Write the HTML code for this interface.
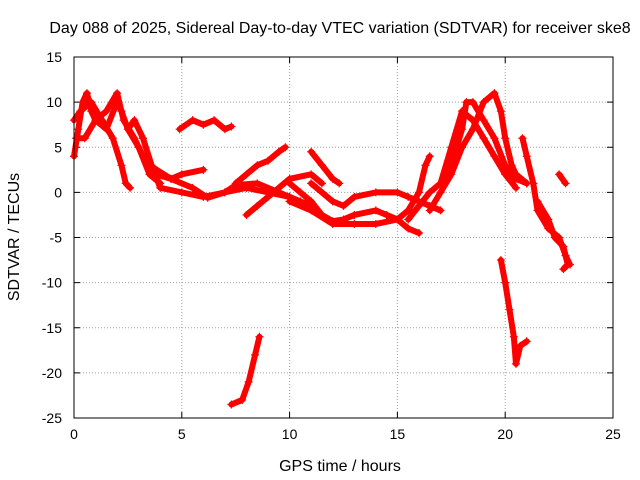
<!DOCTYPE html>
<html><head><meta charset="utf-8"><style>
body{margin:0;background:#fff}
svg{display:block;font-family:"Liberation Sans",sans-serif}
</style></head><body>
<svg id="chart" width="640" height="480" viewBox="0 0 640 480" xmlns="http://www.w3.org/2000/svg">
<rect width="640" height="480" fill="#fff"/>
<text x="340" y="33" font-size="16" text-anchor="middle">Day 088 of 2025, Sidereal Day-to-day VTEC variation (SDTVAR) for receiver ske8</text>
<g id="grid"></g>
<g id="axes"></g>
<g id="series"></g>
<rect x="74" y="57" width="539" height="361" fill="none" stroke="#000" stroke-width="1"/>
<text x="340" y="471" font-size="16" text-anchor="middle">GPS time / hours</text>
<text transform="translate(19,237) rotate(-90)" font-size="16" text-anchor="middle">SDTVAR / TECUs</text>
</svg>
<script>
const xTicks=[0,5,10,15,20,25];
const yTicks=[-25,-20,-15,-10,-5,0,5,10,15];
const track1=[[0.0,4],[0.2,7],[0.4,10],[0.6,11],[0.8,9],[1.0,8],[1.5,7],[2.0,10],[2.2,9],[2.5,7],[3.0,5],[3.5,2],[4,1]];
const track2=[[0.1,6],[0.5,6],[1,8],[1.5,9],[2,11],[2.3,8],[2.8,6],[3.2,4],[3.8,2],[4.5,1.5],[5,2],[6,2.5]];
const track3=[[0.0,8],[0.3,9],[0.8,10],[1.3,8],[1.8,6],[2.2,3],[2.4,1],[2.6,0.5]];
const track4=[[2.5,7],[2.8,8],[3.2,6],[3.6,3],[4,0.5],[5,0],[6,-0.5],[7,0],[8,0.5],[9,0],[10,-0.5]];
const track5=[[4.9,7],[5.5,8],[6,7.5],[6.5,8],[7,7],[7.3,7.3]];
const track6=[[3.5,3],[4.5,1.5],[5.5,0.5],[6.2,-0.6],[7,0],[7.5,0.8],[8.5,1],[9.5,0],[10.5,-1],[11,-1.5]];
const track7=[[8,-2.5],[8.5,-1.5],[9,-0.5],[10,1.5],[11,2],[11.5,1]];
const track8=[[7.5,1],[8,2],[8.5,3],[9,3.5],[9.5,4.5],[9.8,5]];
const track9=[[11,4.5],[11.5,3],[12,1.5],[12.3,1]];
const track10=[[10,1],[10.5,0],[11,-1],[11.5,-2.5],[12,-3.2],[12.5,-3],[13,-2.5],[14,-2],[14.5,-2.5],[15,-3],[15.5,-4],[16,-4.5]];
const track11=[[10,-1],[11,-2],[12,-3.5],[13,-3.5],[14,-3.5],[15,-3],[15.5,-2],[16,0],[16.3,3],[16.5,4]];
const track12=[[11,1],[12,-1],[12.5,-1.5],[13,-0.5],[14,0],[15,0],[15.5,-0.5],[16,-1],[16.5,-1.5],[17,-2]];
const track13=[[15.5,-3],[16,-1.5],[16.5,0],[17,1],[17.5,3],[18,7],[18.2,10],[18.5,10],[19,8],[19.5,6],[20,3],[20.5,1.5],[21,1]];
const track14=[[16.5,-2],[17,0],[17.5,2],[18,5],[18.5,7],[19,10],[19.5,11],[19.8,9],[20,6],[20.3,3],[20.5,2],[21,1]];
const track15=[[17,1],[17.5,5],[18,9],[18.5,8],[19,6],[19.5,4],[20,2],[20.5,0.5]];
const track16=[[20.8,6],[21,4],[21.3,1],[21.5,-2],[22,-4],[22.5,-5],[22.8,-7],[23,-8]];
const track17=[[21.5,-1],[22,-3],[22.3,-5],[22.7,-6],[22.9,-8],[22.7,-8.5]];
const track18=[[22.5,2],[22.8,1]];
const track19=[[19.8,-7.5],[20,-10],[20.2,-13],[20.4,-16],[20.5,-19],[20.7,-17],[21,-16.5]];
const track20=[[7.3,-23.5],[7.8,-23],[8.1,-21],[8.4,-18],[8.6,-16]];
const tracks=[track1,track2,track3,track4,track5,track6,track7,track8,track9,track10,track11,track12,track13,track14,track15,track16,track17,track18,track19,track20];

const X0=74,X1=613,Y0=418,Y1=57;
const xs=v=>X0+(v-0)/25*(X1-X0);
const ys=v=>Y0-(v+25)/40*(Y0-Y1);
const NS="http://www.w3.org/2000/svg";
const grid=document.getElementById('grid'),axes=document.getElementById('axes'),series=document.getElementById('series');
function mk(tag,attrs,parent){const e=document.createElementNS(NS,tag);for(const k in attrs)e.setAttribute(k,attrs[k]);parent.appendChild(e);return e;}
xTicks.forEach(t=>{
  const x=xs(t);
  if(t>0&&t<25){const g=mk('line',{x1:x,x2:x,y1:Y1,y2:Y0,stroke:'#a0a0a0','stroke-dasharray':'1,2'},grid);
  
  }
  mk('line',{x1:x,x2:x,y1:Y0,y2:Y0-6,stroke:'#000'},axes);
  mk('line',{x1:x,x2:x,y1:Y1,y2:Y1+6,stroke:'#000'},axes);
  const l=mk('text',{x:x,y:Y0+21,'font-size':14,'text-anchor':'middle'},axes);l.textContent=t;
  
  
});
yTicks.forEach(t=>{
  const y=ys(t);
  if(t>-25&&t<15){const g=mk('line',{x1:X0,x2:X1,y1:y,y2:y,stroke:'#a0a0a0','stroke-dasharray':'1,2'},grid);
  
  }
  mk('line',{x1:X0,x2:X0+6,y1:y,y2:y,stroke:'#000'},axes);
  mk('line',{x1:X1,x2:X1-6,y1:y,y2:y,stroke:'#000'},axes);
  const l=mk('text',{x:X0-12,y:y+5,'font-size':14,'text-anchor':'end'},axes);l.textContent=t;
  
  
});
tracks.forEach(tr=>{
  const p=mk('polyline',{points:tr.map(d=>xs(d[0])+','+ys(d[1])).join(' '),fill:'none',stroke:'#ff0000','stroke-width':6,'stroke-linejoin':'round','stroke-linecap':'round'},series);
  
  
  tr.forEach(d=>{
    const x=xs(d[0]),y=ys(d[1]);
    const m=mk('path',{d:`M${x-4},${y}H${x+4}M${x},${y-4}V${y+4}`,stroke:'#ff0000','stroke-width':1.2},series);
    
    
  });
});
</script>
</body></html>
